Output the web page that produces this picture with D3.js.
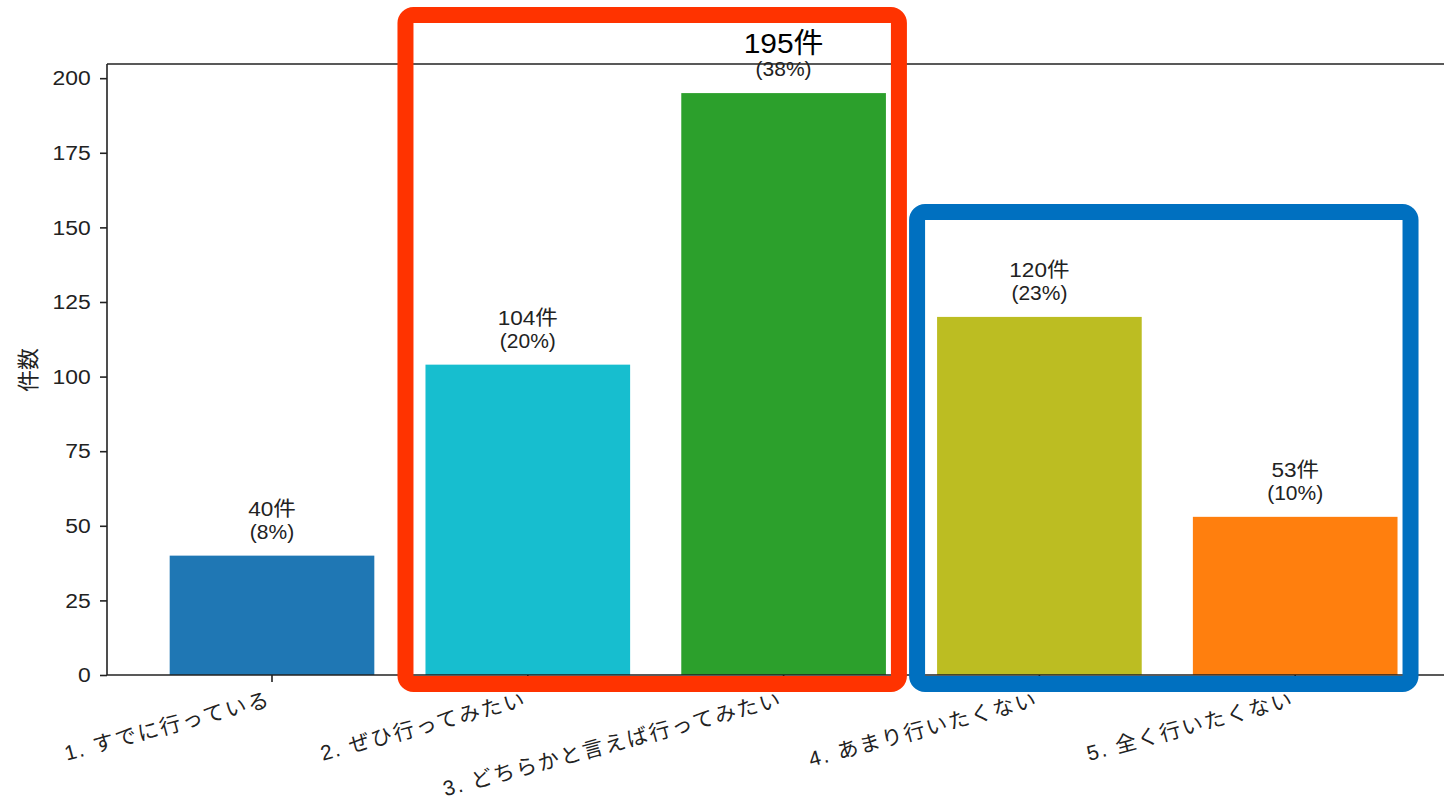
<!DOCTYPE html>
<html><head><meta charset="utf-8">
<script src="https://cdn.jsdelivr.net/npm/d3@7"></script>
<style>
html,body{margin:0;padding:0;background:#fff;}
svg{display:block;}
</style></head>
<body>
<svg id="chart" width="1444" height="805"></svg>
<script>
const categories = ["1. すでに行っている","2. ぜひ行ってみたい","3. どちらかと言えば行ってみたい","4. あまり行いたくない","5. 全く行いたくない"];
const counts = [40, 104, 195, 120, 53];
const percents = ["(8%)","(20%)","(38%)","(23%)","(10%)"];
const barColors = ["#1f77b4","#17becf","#2ca02c","#bcbd22","#ff7f0e"];
const yTicks = [0,25,50,75,100,125,150,175,200];
const yLabel = "件数";
const highlightIndex = 2;
const groupRed = [1,2];
const groupBlue = [3,4];

(function(){
const svg = d3.select("#chart");
const pLeft = 107, pTop = 64, pBottom = 675;
const step = 255.8;
const x0 = 272;
const x = d3.scaleLinear().domain([-0.64, 4.64]).range([x0 - 0.64*step, x0 + 4.64*step]);
const y = d3.scaleLinear().domain([0, 204.75]).range([pBottom, pTop]);
const barW = 0.8;
const lblFont = "'Liberation Sans','Noto Sans CJK JP',sans-serif";
const stretch = 1.09;

svg.selectAll("rect.bar").data(counts).enter().append("rect")
  .attr("class","bar")
  .attr("x",(d,i)=>x(i-barW/2))
  .attr("width",(d,i)=>x(i+barW/2)-x(i-barW/2))
  .attr("y",d=>y(d))
  .attr("height",d=>y(0)-y(d))
  .attr("fill",(d,i)=>barColors[i]);

const xRight = x(4.64);
svg.append("line").attr("x1",pLeft).attr("x2",pLeft).attr("y1",pTop).attr("y2",pBottom).attr("stroke","#222").attr("stroke-width",1.6);
svg.append("line").attr("x1",pLeft).attr("x2",xRight).attr("y1",pTop).attr("y2",pTop).attr("stroke","#222").attr("stroke-width",1.6);
svg.append("line").attr("x1",pLeft).attr("x2",xRight).attr("y1",pBottom).attr("y2",pBottom).attr("stroke","#222").attr("stroke-width",1.6);

const yAxis = d3.axisLeft(y).tickValues(yTicks).tickSize(7).tickPadding(8).tickFormat(d3.format("d"));
const gy = svg.append("g").attr("transform",`translate(${pLeft},0)`).call(yAxis);
gy.select(".domain").remove();
gy.selectAll(".tick line").attr("stroke","#222").attr("stroke-width",1.6);
gy.selectAll(".tick text").attr("font-family","'Liberation Sans',Arial,sans-serif").attr("font-size",21).attr("fill","#222")
  .attr("transform",`scale(${stretch},1)`);

const gx = svg.append("g").attr("transform",`translate(0,${pBottom})`);
gx.selectAll("line").data(categories).enter().append("line")
  .attr("x1",(d,i)=>x(i)).attr("x2",(d,i)=>x(i)).attr("y1",0).attr("y2",7)
  .attr("stroke","#222").attr("stroke-width",1.6);
gx.selectAll("text").data(categories).enter().append("text")
  .attr("transform",(d,i)=>`translate(${x(i)-4},${16}) rotate(-15)`)
  .attr("text-anchor","end")
  .attr("dominant-baseline","hanging")
  .attr("font-family",lblFont)
  .attr("font-size",21)
  .attr("letter-spacing",2)
  .attr("fill","#222")
  .text(d=>d);

svg.append("text")
  .attr("transform","translate(36,370) rotate(-90)")
  .attr("text-anchor","middle")
  .attr("font-family","'Noto Sans CJK JP',sans-serif")
  .attr("font-size",22)
  .attr("fill","#222")
  .text(yLabel);

counts.forEach((c,i)=>{
  const cx = x(i), ty = y(c);
  const big = i===highlightIndex;
  svg.append("text")
    .attr("transform",`translate(${cx},${big? ty-40 : ty-40}) scale(${big?1.07:1.1},1)`)
    .attr("text-anchor","middle").attr("font-family",lblFont)
    .attr("font-size",big?28:20.5).attr("fill",big?"#000":"#222")
    .text(c+"件");
  svg.append("text")
    .attr("transform",`translate(${cx},${ty-17}) scale(1.05,1)`)
    .attr("text-anchor","middle").attr("font-family",lblFont)
    .attr("font-size",20).attr("fill","#222")
    .text(percents[i]);
});

const sw = 16;
function boxX(idx){
  return [x(idx[0]-barW/2), x(idx[idx.length-1]+barW/2)];
}
const rbx = boxX(groupRed);
svg.append("rect").attr("x",rbx[0]-20).attr("y",15).attr("width",rbx[1]-rbx[0]+33).attr("height",684-15)
  .attr("rx",8).attr("fill","none").attr("stroke","#ff3300").attr("stroke-width",sw);
const bbx = boxX(groupBlue);
svg.append("rect").attr("x",bbx[0]-20).attr("y",212).attr("width",bbx[1]-bbx[0]+33).attr("height",684-212)
  .attr("rx",8).attr("fill","none").attr("stroke","#0070c0").attr("stroke-width",sw);
})();
</script>
</body></html>
